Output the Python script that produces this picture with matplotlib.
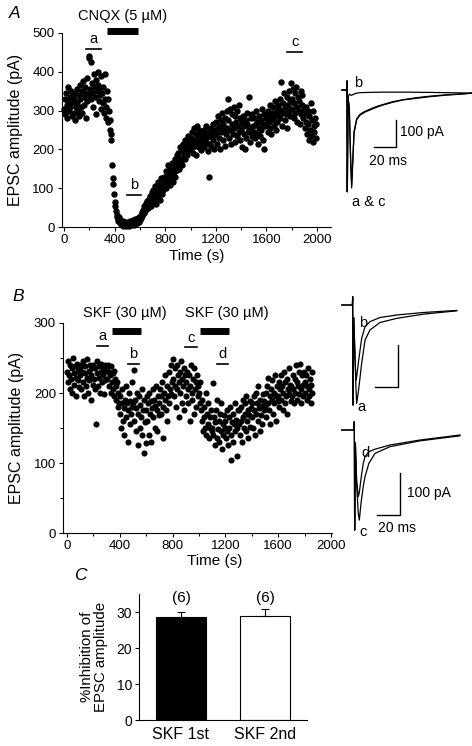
import numpy as np
import matplotlib
matplotlib.use("Agg")
import matplotlib.pyplot as plt

plt.rcParams['font.family'] = ['Liberation Sans', 'DejaVu Sans']

W, H = 472, 746

# =============================================================================
# DATA
# =============================================================================

# --- Panel A: EPSC amplitude (pA) during CNQX, one sweep every 5 s
a_step = 5
a_amp = [
    305, 330, 290, 345, 315, 280, 360, 325, 300, 335, 310, 350, 285, 320, 340, 295, 330, 275, 345, 310,
    320, 355, 300, 340, 285, 365, 330, 310, 350, 295, 375, 335, 315, 360, 280, 345, 325, 385, 340, 435,
    440, 355, 425, 330, 370, 345, 310, 395, 360, 335, 380, 290, 350, 365, 400, 325, 355, 340, 390, 305,
    345, 320, 360, 295, 395, 330, 280, 310, 350, 270, 330, 300, 275, 250, 240, 225, 160, 125, 110, 85,
    65, 55, 40, 30, 25, 20, 15, 25, 10, 18, 8, 12, 5, 15, 3, 10, 6, 14, 2, 9,
    5, 12, 3, 10, 7, 15, 4, 11, 8, 18, 6, 13, 9, 20, 12, 16, 10, 22, 14, 25,
    18, 30, 24, 38, 28, 45, 35, 55, 42, 62, 48, 68, 58, 50, 72, 60, 80, 55, 66, 90,
    70, 95, 62, 85, 105, 75, 58, 98, 80, 115, 88, 70, 102, 92, 125, 84, 110, 96, 130, 105,
    118, 145, 100, 132, 160, 122, 140, 108, 150, 128, 165, 135, 115, 155, 142, 175, 130, 160, 148, 185,
    165, 190, 150, 178, 205, 170, 195, 160, 215, 182, 200, 175, 225, 190, 210, 185, 235, 198, 220, 205,
    230, 200, 245, 215, 190, 255, 225, 210, 240, 185, 260, 220, 235, 205, 250, 228, 198, 245, 215, 238,
    225, 250, 205, 240, 218, 260, 232, 195, 245, 215, 130, 235, 255, 210, 242, 225, 265, 200, 238, 250,
    240, 270, 215, 255, 285, 230, 260, 200, 275, 245, 295, 225, 265, 250, 210, 280, 240, 300, 255, 330,
    275, 230, 305, 250, 215, 290, 265, 240, 310, 255, 220, 285, 270, 235, 300, 260, 245, 315, 225, 280,
    250, 270, 205, 285, 240, 260, 200, 275, 230, 265, 295, 245, 336, 255, 220, 280, 250, 235, 290, 260,
    245, 280, 230, 265, 300, 240, 270, 215, 255, 285, 235, 275, 250, 305, 225, 265, 290, 200, 260, 280,
    265, 290, 245, 300, 270, 255, 315, 280, 240, 295, 275, 310, 260, 285, 325, 250, 300, 270, 290, 315,
    305, 330, 280, 374, 295, 260, 320, 300, 345, 275, 310, 290, 335, 255, 315, 300, 350, 285, 325, 372,
    330, 305, 355, 280, 320, 345, 295, 360, 310, 270, 335, 300, 325, 265, 350, 290, 315, 340, 280, 305,
    290, 255, 310, 270, 240, 300, 265, 225, 285, 250, 320, 235, 275, 220, 300, 260, 245, 280, 230, 265,
]
a_time = np.arange(len(a_amp)) * a_step
a_drug = ("CNQX (5 \u00b5M)", 337, 587)
a_epochs = [("a", 174, 290, 459), ("b", 495, 610, 82), ("c", 1766, 1880, 452)]

# --- Panel B: two SKF applications, one sweep every 5 s
b_step = 5
b_amp = [
    230, 215, 245, 225, 205, 240, 220, 235, 200, 250, 228, 212, 238, 222, 195, 242, 218, 232, 208, 236,
    225, 240, 205, 230, 215, 245, 195, 228, 238, 210, 222, 248, 200, 232, 218, 240, 190, 226, 235, 212,
    240, 220, 235, 205, 155, 245, 228, 210, 238, 222, 200, 242, 230, 215, 236, 225, 198, 240, 218, 232,
    235, 220, 240, 210, 230, 225, 200, 238, 215, 228, 205, 232, 195, 220, 210, 190, 215, 180, 200, 185,
    195, 170, 150, 185, 205, 160, 178, 140, 190, 210, 165, 185, 130, 175, 200, 155, 188, 170, 215, 180,
    185, 233, 160, 190, 145, 178, 200, 125, 170, 195, 150, 183, 165, 205, 140, 175, 115, 190, 158, 128,
    175, 195, 160, 185, 140, 200, 170, 188, 130, 178, 205, 165, 190, 150, 182, 210, 145, 175, 195, 168,
    185, 205, 170, 195, 215, 180, 135, 200, 190, 225, 175, 210, 160, 195, 230, 185, 205, 240, 198, 215,
    248, 220, 195, 235, 210, 180, 240, 205, 225, 165, 215, 230, 200, 245, 185, 220, 210, 235, 175, 225,
    215, 195, 230, 205, 185, 225, 160, 210, 240, 200, 190, 220, 170, 235, 205, 215, 180, 225, 195, 210,
    200, 185, 215, 175, 160, 190, 145, 180, 165, 150, 200, 140, 170, 155, 185, 135, 165, 150, 175, 145,
    150, 214, 140, 165, 125, 158, 175, 135, 190, 148, 160, 130, 170, 145, 185, 120, 155, 140, 168, 150,
    160, 135, 175, 145, 125, 165, 150, 180, 140, 105, 158, 170, 130, 155, 185, 145, 162, 110, 150, 175,
    155, 175, 140, 180, 160, 130, 190, 165, 150, 185, 170, 145, 195, 160, 175, 135, 168, 188, 152, 178,
    165, 185, 150, 195, 175, 140, 200, 170, 185, 160, 210, 178, 145, 190, 168, 182, 155, 198, 175, 188,
    180, 200, 165, 210, 185, 222, 175, 195, 155, 205, 190, 218, 170, 200, 185, 225, 160, 195, 210, 188,
    195, 215, 180, 205, 225, 190, 210, 175, 200, 230, 185, 215, 195, 220, 170, 205, 235, 198, 212, 188,
    210, 195, 225, 205, 185, 220, 200, 240, 215, 190, 210, 230, 198, 242, 205, 185, 225, 212, 195, 230,
    215, 200, 225, 190, 210, 235, 205, 195, 220, 185, 212, 230, 200,
]
b_time = np.arange(len(b_amp)) * b_step
b_drugs = [("SKF (30 \u00b5M)", 343, 558, 440), ("SKF (30 \u00b5M)", 1008, 1230, 1208)]
b_epochs = [("a", 225, 308, 267), ("b", 460, 548, 242), ("c", 894, 987, 265), ("d", 1139, 1222, 241)]

# --- Traces (ms from stimulus, pA)
trA_t = [-4.6, -0.3, 0.0, 0.3, 0.9, 2.1, 3.3, 4.3, 5.0, 6.5, 8.9, 12, 16, 21, 27, 33.5, 42, 52, 64, 76.5, 92, 107, 115]
trA_a = [0, 0, 34, -381, -30, -60, -250, -367, -300, -162, -112, -94, -84, -75, -65, -56, -46, -37, -31, -25, -19, -15, -12]
trA_c = [0, 0, 34, -381, -30, -70, -260, -355, -290, -155, -108, -91, -81, -72, -62, -54, -44, -36, -29, -23, -18, -14, -11]
trA_b = [0, 0, 34, -381, -30, -15, -19, -20, -18, -15, -12, -10, -9.5, -9, -8.5, -8, -8, -8, -8.5, -9, -10, -11, -12]

trB1_t = [-9.4, -0.3, 0.0, 0.3, 0.9, 2.0, 2.8, 3.4, 5.0, 7.7, 10.6, 14.8, 23.4, 37.8, 60.6, 89.3]
trB1_a = [0, 0, 20, -240, -30, -120, -200, -236, -205, -140, -84, -60, -42, -32, -22, -14]
trB1_b = [0, 0, 20, -240, -30, -130, -180, -172, -135, -80, -52, -40, -30, -24, -18, -13]

trB2_t = [-10.8, -0.3, 0.0, 0.3, 0.9, 2.0, 3.4, 4.3, 6.0, 7.7, 9.2, 12.5, 17.8, 30.6, 56.4, 90.7]
trB2_c = [0, 0, 20, -240, -30, -130, -200, -216, -170, -135, -112, -80, -56, -40, -26, -14]
trB2_d = [0, 0, 20, -240, -30, -120, -160, -150, -112, -80, -64, -52, -46, -36, -24, -12]

# --- Panel C: % inhibition (mean +/- SEM)
c_labels = ["SKF 1st", "SKF 2nd"]
c_mean = [28.5, 28.9]
c_sem = [1.6, 1.8]
c_n = [6, 6]


# =============================================================================
# HELPERS
# =============================================================================

def px_box(left, top, right, bottom):
    return [left / W, 1 - bottom / H, (right - left) / W, (bottom - top) / H]


def style_axes(ax):
    for s in ["top", "right"]:
        ax.spines[s].set_visible(False)
    for s in ["left", "bottom"]:
        ax.spines[s].set_linewidth(0.8)
    ax.tick_params(which="major", direction="out", length=3, width=0.8, labelsize=9.5, pad=2)
    ax.tick_params(which="minor", direction="out", length=2, width=0.8)


def trace_axes(fig, box, origin, sx, sy):
    # box in px (l, t, r, b); origin = stimulus/baseline px; sx px per ms, sy px per pA
    l, t, r, b = box
    ax = fig.add_axes(px_box(l, t, r, b))
    ax.set_xlim((l - origin[0]) / sx, (r - origin[0]) / sx)
    ax.set_ylim(-(b - origin[1]) / sy, (origin[1] - t) / sy)
    ax.set_axis_off()
    return ax


fig = plt.figure(figsize=(W / 100, H / 100), dpi=100)

# =============================================================================
# PANEL A
# =============================================================================
axA = fig.add_axes(px_box(61.5, 33, 330.9, 227))
style_axes(axA)
axA.plot(a_time, a_amp, "o", ms=4.6, color="k", mew=0, clip_on=False)
axA.set_xlim(-20, 2110)
axA.set_ylim(0, 500)
axA.set_xticks([0, 400, 800, 1200, 1600, 2000])
axA.set_xticks(np.arange(200, 2100, 400), minor=True)
axA.set_yticks([0, 100, 200, 300, 400, 500])
axA.set_xlabel("Time (s)", fontsize=11)
axA.set_ylabel("EPSC amplitude (pA)", fontsize=11.5)
axA.xaxis.set_label_coords(0.5, -0.115)
axA.yaxis.set_label_coords(-0.143, 0.5)

name, t0, t1 = a_drug
axA.plot([t0, t1], [506, 506], color="k", lw=5, solid_capstyle="butt", clip_on=False)
axA.text((t0 + t1) / 2, 525, name, ha="center", va="bottom", fontsize=10.5)
for lab, t0, t1, y in a_epochs:
    axA.plot([t0, t1], [y, y], color="k", lw=1.2, clip_on=False)
    axA.text((t0 + t1) / 2, y + 8, lab, ha="center", va="bottom", fontsize=10.5)

fig.text(15 / W, 1 - 13 / H, "A", fontsize=12.5, style="italic", ha="center", va="center")

# traces A
tA = trace_axes(fig, (330, 70, 472, 215), (347, 90), 1.085, 0.267)
for tr in [trA_b, trA_a, trA_c]:
    tA.plot(trA_t, tr, color="k", lw=0.9)
tA.plot([25, 45, 45], [-212, -212, -112], color="k", lw=1.0)
tA.text(49, -156, "100 pA", ha="left", va="center", fontsize=10)
tA.text(38, -265, "20 ms", ha="center", va="center", fontsize=10)
tA.text(10, 27, "b", ha="center", va="center", fontsize=10.5)
tA.text(19.6, -418, "a & c", ha="center", va="center", fontsize=10.5)

# =============================================================================
# PANEL B
# =============================================================================
axB = fig.add_axes(px_box(63, 323, 332.3, 533))
style_axes(axB)
axB.plot(b_time, b_amp, "o", ms=4.4, color="k", mew=0, clip_on=False)
axB.set_xlim(-30, 2010)
axB.set_ylim(0, 300)
axB.set_xticks([0, 400, 800, 1200, 1600, 2000])
axB.set_xticks(np.arange(200, 2000, 400), minor=True)
axB.set_yticks([0, 100, 200, 300])
axB.set_yticks([50, 150, 250], minor=True)
axB.set_xlabel("Time (s)", fontsize=11)
axB.set_ylabel("EPSC amplitude (pA)", fontsize=11.5)
axB.xaxis.set_label_coords(0.564, -0.1)
axB.yaxis.set_label_coords(-0.146, 0.5)

for name, t0, t1, tx in b_drugs:
    axB.plot([t0, t1], [289, 289], color="k", lw=5, solid_capstyle="butt", clip_on=False)
    axB.text(tx, 314, name, ha="center", va="center", fontsize=10.5)
for lab, t0, t1, y in b_epochs:
    axB.plot([t0, t1], [y, y], color="k", lw=1.2, clip_on=False)
    axB.text((t0 + t1) / 2, y + 4, lab, ha="center", va="bottom", fontsize=10.5)

fig.text(18 / W, 1 - 297 / H, "B", fontsize=12.5, style="italic", ha="center", va="center")

# traces B, first pair (a, b)
tB1 = trace_axes(fig, (330, 285, 472, 415), (352.7, 305), 1.165, 0.417)
tB1.plot(trB1_t, trB1_a, color="k", lw=0.9)
tB1.plot(trB1_t, trB1_b, color="k", lw=0.9)
tB1.plot([19, 39, 39], [-197, -197, -97], color="k", lw=1.0)
tB1.text(9.1, -44, "b", ha="center", va="center", fontsize=10.5)
tB1.text(7.7, -245, "a", ha="center", va="center", fontsize=10.5)

# traces B, second pair (c, d)
tB2 = trace_axes(fig, (330, 415, 472, 545), (354.3, 430), 1.165, 0.417)
tB2.plot(trB2_t, trB2_c, color="k", lw=0.9)
tB2.plot(trB2_t, trB2_d, color="k", lw=0.9)
tB2.plot([19.2, 39.2, 39.2], [-204, -204, -104], color="k", lw=1.0)
tB2.text(45, -152, "100 pA", ha="left", va="center", fontsize=10)
tB2.text(36.7, -236, "20 ms", ha="center", va="center", fontsize=10)
tB2.text(9.8, -54, "d", ha="center", va="center", fontsize=10.5)
tB2.text(7.7, -244, "c", ha="center", va="center", fontsize=10.5)

# =============================================================================
# PANEL C
# =============================================================================
axC = fig.add_axes(px_box(139, 594, 307, 720))
style_axes(axC)
x = np.arange(len(c_labels))
axC.bar(x, c_mean, width=0.6, color=["k", "w"], edgecolor="k", linewidth=0.8, zorder=2)
axC.errorbar(x, c_mean, yerr=[[0] * len(x), c_sem], fmt="none", ecolor="k",
             elinewidth=0.8, capsize=3, capthick=0.8, zorder=3)
for xi, n in zip(x, c_n):
    axC.text(xi, 33.9, f"({n})", ha="center", va="center", fontsize=11)
axC.set_xlim(-0.5, 1.5)
axC.set_ylim(0, 35)
axC.set_yticks([0, 10, 20, 30])
axC.set_xticks(x, c_labels)
axC.tick_params(axis="x", length=0, pad=5, labelsize=11.5)
axC.tick_params(axis="y", labelsize=10)
axC.set_ylabel("%Inhibition of\nEPSC amplitude", fontsize=10.8, linespacing=1.0)
axC.yaxis.set_label_coords(-0.185, 0.5)

fig.text(80 / W, 1 - 576 / H, "C", fontsize=12.5, style="italic", ha="center", va="center")

fig.savefig("out.png", dpi=100)
